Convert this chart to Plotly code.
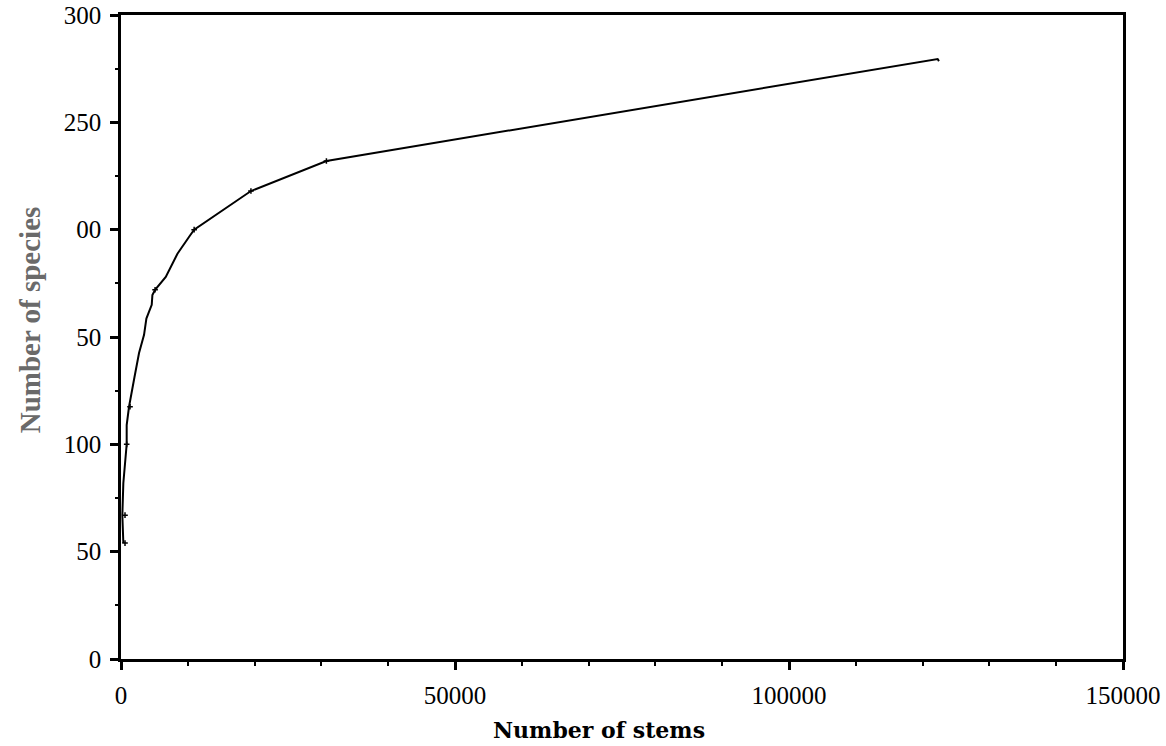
import plotly.graph_objects as go

# Species accumulation curve
stems = [350, 200, 350, 850, 850, 1200, 2000, 2700, 3450, 3800, 4200, 4600, 4700,
         5100, 6700, 7450, 8450, 10200, 10950, 19450, 30750, 122250, 122450]
species = [54, 67, 82, 100, 109, 117.5, 131, 142.5, 151, 158.6, 161.8, 165, 169.5,
           172, 178, 182.6, 188.8, 196.7, 200, 218, 232, 279.5, 278.5]

# points drawn with small tick marks
mark_stems = [600, 600, 850, 1350, 5100, 10950, 19450, 30750]
mark_species = [54, 67, 100, 117.5, 172, 200, 218, 232]

x_tickvals = [0, 50000, 100000, 150000]
x_ticktext = ["0", "50000", "100000", "150000"]
y_tickvals = [0, 50, 100, 150, 200, 250, 300]
y_ticktext = ["0", "50", "100", "50", "00", "250", "300"]

serif = "Liberation Serif, Times New Roman, serif"
title_serif = "DejaVu Serif, serif"

fig = go.Figure()
fig.add_trace(go.Scatter(x=stems, y=species, mode="lines",
                         line=dict(color="black", width=2), showlegend=False))
fig.add_trace(go.Scatter(x=mark_stems, y=mark_species, mode="markers",
                         marker=dict(symbol="cross-thin", size=4,
                                     line=dict(color="black", width=1.5)),
                         showlegend=False))

fig.update_layout(
    width=1166, height=746,
    margin=dict(l=121, r=43, t=15, b=87),
    paper_bgcolor="white", plot_bgcolor="white",
    font=dict(family=serif, size=25, color="black"),
    xaxis=dict(range=[0, 150000], tickvals=x_tickvals, ticktext=x_ticktext,
               automargin=False, ticklabeloverflow="allow",
               showgrid=False, zeroline=False, showline=True, linecolor="black",
               linewidth=2.5, mirror=True, ticks="outside", ticklen=8, tickwidth=2.5,
               tickcolor="black", ticklabelstandoff=4,
               minor=dict(dtick=10000, ticks="outside", ticklen=4, tickwidth=2,
                          tickcolor="black", showgrid=False)),
    yaxis=dict(range=[0, 300], tickvals=y_tickvals, ticktext=y_ticktext,
               automargin=False, ticklabeloverflow="allow",
               showgrid=False, zeroline=False, showline=True, linecolor="black",
               linewidth=2.5, mirror=True, ticks="outside", ticklen=8, tickwidth=2.5,
               tickcolor="black", ticklabelstandoff=4,
               minor=dict(dtick=25, ticks="outside", ticklen=3, tickwidth=2,
                          tickcolor="black", showgrid=False)),
    annotations=[
        dict(text="<b>Number of stems</b>", xref="paper", yref="paper",
             x=0.477, y=-0.11, xanchor="center", yanchor="middle",
             showarrow=False, font=dict(family=title_serif, size=22, color="black")),
        dict(text="<b>Number of species</b>", xref="paper", yref="paper",
             x=-0.0908, y=0.526, xanchor="center", yanchor="middle", textangle=-90,
             showarrow=False, font=dict(family=serif, size=29, color="#6a6a6a")),
    ],
)

# remove the browser's default 8px body margin so the figure fills the window
fig.write_html("out.html", config={"displayModeBar": False},
               post_script="document.body.style.margin='0';")
